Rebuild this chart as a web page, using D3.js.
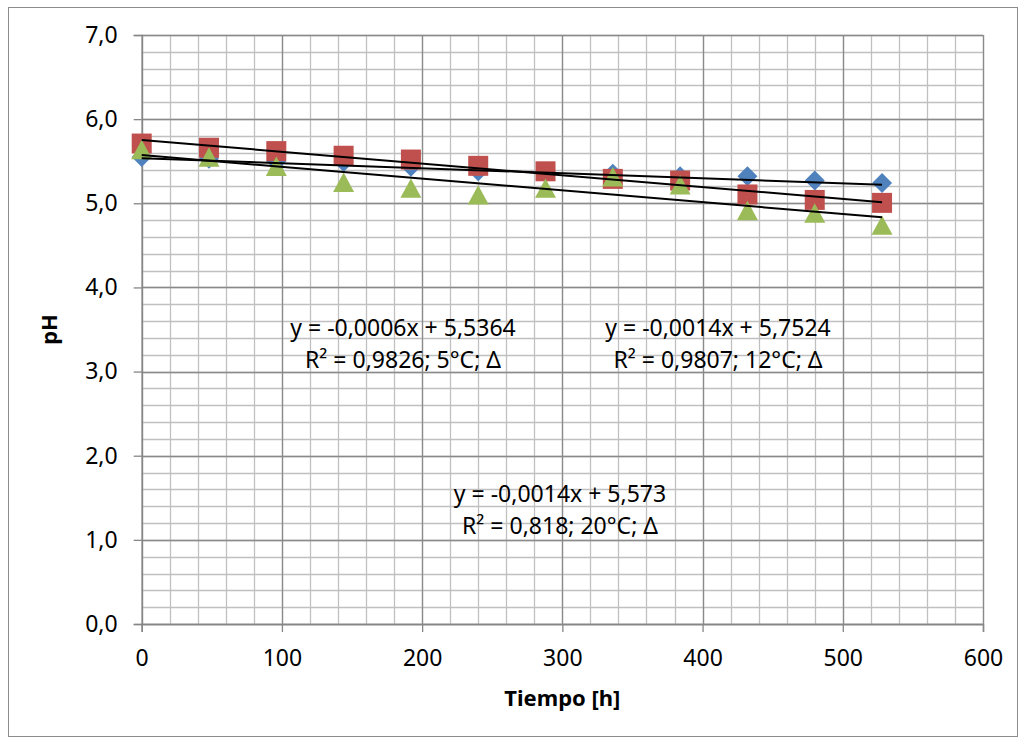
<!DOCTYPE html>
<html><head><meta charset="utf-8">
<script src="https://cdn.jsdelivr.net/npm/d3@7"></script>
<style>body{margin:0;background:#fff}svg{display:block}</style>
</head><body>
<svg id="c" width="1026" height="745"></svg>
<script>
const hours = [0, 48, 96, 144, 192, 240, 288, 336, 384, 432, 480, 528];
const ph5C  = [5.55, 5.53, 5.50, 5.49, 5.435, 5.38, 5.37, 5.35, 5.32, 5.32, 5.27, 5.24];
const ph12C = [5.71, 5.66, 5.62, 5.565, 5.52, 5.445, 5.38, 5.29, 5.27, 5.105, 5.04, 5.005];
const ph20C = [5.64, 5.55, 5.44, 5.25, 5.18, 5.10, 5.18, 5.315, 5.22, 4.915, 4.885, 4.74];
const seriesNames = ["5°C", "12°C", "20°C"];
const slopes = [-0.0006, -0.0014, -0.0014];
const intercepts = [5.5364, 5.7524, 5.573];
const eqLabels = [
  ["y = -0,0006x + 5,5364", "R² = 0,9826; 5°C; Δ"],
  ["y = -0,0014x + 5,7524", "R² = 0,9807; 12°C; Δ"],
  ["y = -0,0014x + 5,573", "R² = 0,818; 20°C; Δ"]
];
const xTicks = [0, 100, 200, 300, 400, 500, 600];
const yTicks = [0, 1, 2, 3, 4, 5, 6, 7];

const svg = d3.select("#c");
const font = "'Noto Sans', 'Open Sans', sans-serif";
const colors = ["#4F81BD", "#C0504D", "#9BBB59"];

svg.append("rect").attr("x", 8.5).attr("y", 7.5).attr("width", 1009).attr("height", 729)
  .attr("fill", "#fff").attr("stroke", "#8c8c8c").attr("stroke-width", 1);

const L = 141.7, R = 983, T = 35, B = 624;
const x = d3.scaleLinear().domain([0, 600]).range([L, R]);
const y = d3.scaleLinear().domain([0, 7]).range([B, T]);

const g = svg.append("g");
const xMinor = d3.range(0, 601, 20), yMinor = d3.range(0, 7.01, 0.2);
g.selectAll(".xm").data(xMinor).enter().append("line")
  .attr("x1", d => Math.round(x(d)) + 0.5).attr("x2", d => Math.round(x(d)) + 0.5)
  .attr("y1", T).attr("y2", B).attr("stroke", "#c0c0c0").attr("stroke-width", 1.3);
g.selectAll(".ym").data(yMinor).enter().append("line")
  .attr("y1", d => Math.round(y(d)) + 0.5).attr("y2", d => Math.round(y(d)) + 0.5)
  .attr("x1", L).attr("x2", R).attr("stroke", "#c0c0c0").attr("stroke-width", 1.3);
g.selectAll(".xM").data(xTicks).enter().append("line")
  .attr("x1", d => Math.round(x(d)) + 0.5).attr("x2", d => Math.round(x(d)) + 0.5)
  .attr("y1", T).attr("y2", B).attr("stroke", "#8a8a8a").attr("stroke-width", 1.3);
g.selectAll(".yM").data(yTicks).enter().append("line")
  .attr("y1", d => Math.round(y(d)) + 0.5).attr("y2", d => Math.round(y(d)) + 0.5)
  .attr("x1", L).attr("x2", R).attr("stroke", "#8a8a8a").attr("stroke-width", 1.3);

const fmt = d => d3.format(".1f")(d).replace(".", ",");
const xAxis = svg.append("g").attr("transform", `translate(0,${B})`)
  .call(d3.axisBottom(x).tickValues(xTicks).tickSize(8).tickPadding(18).tickFormat(d => d));
const yAxis = svg.append("g").attr("transform", `translate(${L},0)`)
  .call(d3.axisLeft(y).tickValues(yTicks).tickSize(8).tickPadding(16).tickFormat(fmt));
[xAxis, yAxis].forEach(a => {
  a.select(".domain").attr("stroke", "#868686").attr("stroke-width", 1.5);
  a.selectAll(".tick line").attr("stroke", "#868686").attr("stroke-width", 1.3);
  a.selectAll("text").attr("fill", "#000").style("font-family", font).style("font-size", "23px");
});

const allSeries = [ph5C, ph12C, ph20C];
allSeries.forEach((vals, i) => {
  svg.append("g").selectAll("path").data(hours.map((h, j) => [h, vals[j]])).enter().append("path")
    .attr("d", () => {
      if (i === 0) { const s = 10; return `M0,${-s}L${s},0L0,${s}L${-s},0Z`; }
      if (i === 1) { const s = 10; return `M${-s},${-s}H${s}V${s}H${-s}Z`; }
      const w = 10.5, h = 9.7; return `M0,${-h}L${w},${h}L${-w},${h}Z`;
    })
    .attr("transform", d => `translate(${x(d[0])},${y(d[1])})`)
    .attr("fill", colors[i]);
});

slopes.forEach((m, i) => {
  const x0 = hours[0], x1 = hours[hours.length - 1];
  svg.append("line").attr("x1", x(x0)).attr("x2", x(x1))
    .attr("y1", y(intercepts[i] + m * x0)).attr("y2", y(intercepts[i] + m * x1))
    .attr("stroke", "#000").attr("stroke-width", 2);
});

const eqPos = [[403, 327], [718, 327], [560, 493]];
eqLabels.forEach((lines, i) => {
  lines.forEach((t, k) => {
    svg.append("text").attr("x", eqPos[i][0]).attr("y", eqPos[i][1] + k * 32)
      .attr("text-anchor", "middle").attr("dominant-baseline", "central")
      .style("font-family", font).style("font-size", "23px").text(t);
  });
});

svg.append("text").attr("x", x(300)).attr("y", 697).attr("text-anchor", "middle")
  .attr("dominant-baseline", "central").style("font-family", font).style("font-size", "22px")
  .style("font-weight", "bold").text("Tiempo [h]");
svg.append("text").attr("transform", `translate(48,${y(3.5)}) rotate(-90)`).attr("text-anchor", "middle")
  .attr("dominant-baseline", "central").style("font-family", font).style("font-size", "22px")
  .style("font-weight", "bold").text("pH");
</script>
</body></html>
